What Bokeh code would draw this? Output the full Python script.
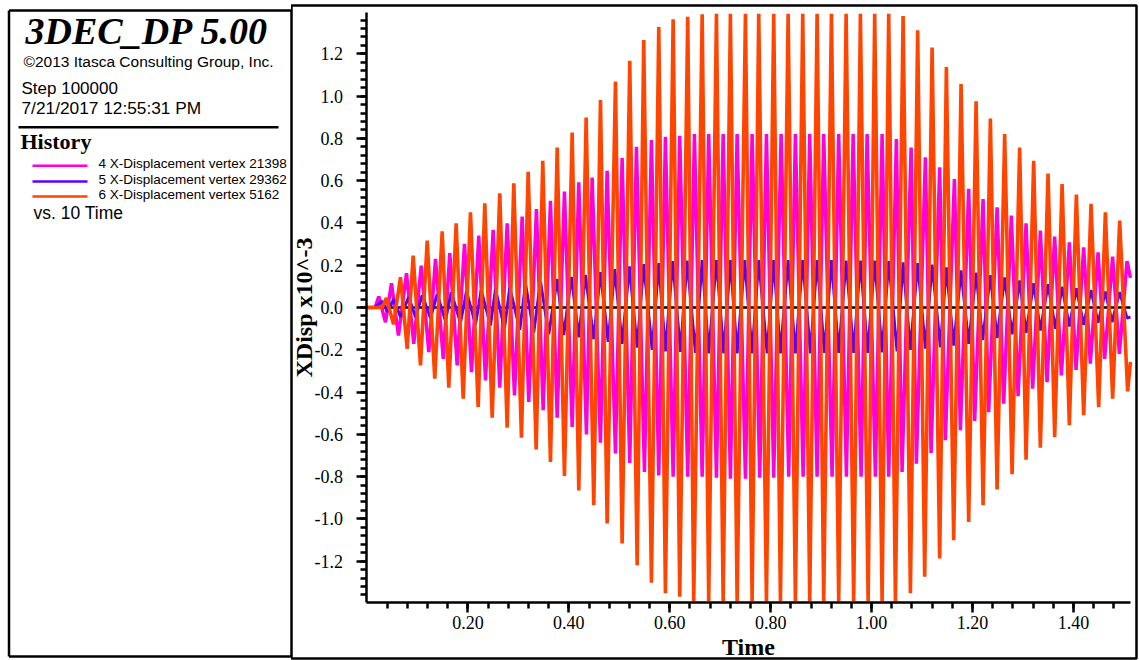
from bokeh.plotting import figure
from bokeh.layouts import row
from bokeh.models import Range1d, LinearAxis, FixedTicker, PrintfTickFormatter
from bokeh.core.properties import value
from bokeh.embed import file_html
from bokeh.resources import INLINE

# ---------------- data ----------------
# series 6: X-Displacement vertex 5162 (orange)
orange_start_t = [0.0, 0.030]
orange_start_v = [0.0, 0.0]
orange_peak_t = [0.0386, 0.0664, 0.0915, 0.1193, 0.1490, 0.1767, 0.2051, 0.2334, 0.2631, 0.2909,
                 0.3194, 0.3483, 0.3769, 0.4066, 0.4343, 0.4627, 0.4924, 0.5207, 0.5484, 0.5782,
                 0.6067, 0.6356, 0.6642, 0.6925, 0.7202, 0.7500, 0.7763, 0.8060, 0.8346, 0.8635,
                 0.8920, 0.9204, 0.9495, 0.9778, 1.0061, 1.0339, 1.0624, 1.0913, 1.1199, 1.1482,
                 1.1773, 1.2071, 1.2354, 1.2637, 1.2934, 1.3212, 1.3497, 1.3775, 1.4058, 1.4349,
                 1.4633, 1.4916]
orange_peak_v = [0.045, 0.143, 0.245, 0.316, 0.360, 0.398, 0.450, 0.493, 0.540, 0.587,
                 0.642, 0.694, 0.757, 0.828, 0.899, 0.981, 1.069, 1.167, 1.265, 1.327,
                 1.364, 1.375, 1.387, 1.39, 1.39, 1.39, 1.39, 1.39, 1.39, 1.39,
                 1.39, 1.39, 1.39, 1.39, 1.39, 1.39, 1.379, 1.312, 1.230, 1.138,
                 1.057, 0.975, 0.894, 0.820, 0.757, 0.694, 0.634, 0.584, 0.534, 0.490,
                 0.450, 0.411]
orange_trough_t = [0.0525, 0.0797, 0.1060, 0.1343, 0.1621, 0.1906, 0.2203, 0.2481, 0.2778, 0.3061,
                   0.3353, 0.3636, 0.3913, 0.4197, 0.4494, 0.4759, 0.5056, 0.5354, 0.5637, 0.5914,
                   0.6198, 0.6475, 0.6772, 0.7058, 0.7335, 0.7632, 0.7916, 0.8193, 0.8490, 0.8774,
                   0.9051, 0.9348, 0.9645, 0.9931, 1.0208, 1.0472, 1.0769, 1.1052, 1.1349, 1.1627,
                   1.1924, 1.2209, 1.2487, 1.2784, 1.3061, 1.3344, 1.3628, 1.3919, 1.4203, 1.4500,
                   1.4777, 1.5074]
orange_trough_v = [-0.080, -0.195, -0.274, -0.337, -0.379, -0.431, -0.471, -0.521, -0.568, -0.616,
                   -0.672, -0.731, -0.797, -0.865, -0.935, -1.022, -1.116, -1.219, -1.302, -1.352,
                   -1.368, -1.39, -1.39, -1.39, -1.39, -1.39, -1.39, -1.39, -1.39, -1.39,
                   -1.39, -1.39, -1.39, -1.39, -1.39, -1.39, -1.352, -1.274, -1.187, -1.101,
                   -1.014, -0.935, -0.861, -0.789, -0.720, -0.663, -0.613, -0.557, -0.510, -0.471,
                   -0.431, -0.397]
orange_end_t = [1.5130]
orange_end_v = [-0.258]

# series 4: X-Displacement vertex 21398 (magenta)
magenta_start_t = [0.0, 0.016]
magenta_start_v = [0.0, 0.0]
magenta_peak_t = [0.0234, 0.0485, 0.0783, 0.1074, 0.1357, 0.1641, 0.1932, 0.2215, 0.2500, 0.2778,
                  0.3075, 0.3358, 0.3636, 0.3913, 0.4197, 0.4462, 0.4759, 0.5056, 0.5340, 0.5637,
                  0.5914, 0.6198, 0.6489, 0.6772, 0.7058, 0.7335, 0.7632, 0.7916, 0.8207, 0.8490,
                  0.8774, 0.9051, 0.9348, 0.9634, 0.9911, 1.0208, 1.0491, 1.0783, 1.1066, 1.1349,
                  1.1641, 1.1924, 1.2209, 1.2487, 1.2770, 1.3061, 1.3345, 1.3628, 1.3919, 1.4203,
                  1.4488, 1.4777, 1.5062]
magenta_peak_v = [0.052, 0.115, 0.162, 0.198, 0.230, 0.257, 0.301, 0.340, 0.367, 0.398,
                  0.430, 0.466, 0.505, 0.549, 0.592, 0.615, 0.647, 0.707, 0.760, 0.792,
                  0.808, 0.812, 0.820, 0.820, 0.820, 0.820, 0.820, 0.820, 0.820, 0.820,
                  0.820, 0.820, 0.820, 0.820, 0.820, 0.820, 0.797, 0.757, 0.710, 0.663,
                  0.608, 0.561, 0.513, 0.474, 0.435, 0.398, 0.364, 0.335, 0.308, 0.285,
                  0.261, 0.241, 0.219]
magenta_trough_t = [0.0367, 0.0624, 0.0927, 0.1225, 0.1510, 0.1787, 0.2071, 0.2348, 0.2631, 0.2923,
                    0.3206, 0.3491, 0.3769, 0.4066, 0.4349, 0.4626, 0.4924, 0.5207, 0.5498, 0.5782,
                    0.6067, 0.6356, 0.6642, 0.6925, 0.7202, 0.7500, 0.7783, 0.8060, 0.8357, 0.8643,
                    0.8920, 0.9217, 0.9501, 0.9792, 1.0075, 1.0339, 1.0604, 1.0888, 1.1179, 1.1462,
                    1.1760, 1.2043, 1.2320, 1.2618, 1.2903, 1.3192, 1.3477, 1.3761, 1.4052, 1.4335,
                    1.4619, 1.4910]
magenta_trough_v = [-0.070, -0.132, -0.172, -0.211, -0.243, -0.274, -0.306, -0.345, -0.379, -0.416,
                    -0.447, -0.486, -0.521, -0.565, -0.600, -0.640, -0.690, -0.735, -0.778, -0.794,
                    -0.800, -0.800, -0.800, -0.805, -0.810, -0.810, -0.805, -0.805, -0.800, -0.800,
                    -0.800, -0.800, -0.800, -0.800, -0.800, -0.800, -0.778, -0.739, -0.688, -0.628,
                    -0.581, -0.537, -0.495, -0.455, -0.420, -0.384, -0.353, -0.321, -0.295, -0.266,
                    -0.243, -0.219]
magenta_end_t = [1.5130]
magenta_end_v = [0.140]

# series 5: X-Displacement vertex 29362 (blue)
blue_start_t = [0.0, 0.015]
blue_start_v = [0.0, 0.0]
blue_peak_t = [0.0301, 0.0531, 0.0828, 0.1094, 0.1391, 0.1668, 0.1971, 0.2263, 0.2546, 0.2829,
               0.3141, 0.3438, 0.3769, 0.4052, 0.4329, 0.4627, 0.4910, 0.5201, 0.5484, 0.5782,
               0.6059, 0.6344, 0.6642, 0.6925, 0.7202, 0.7486, 0.7763, 0.8060, 0.8346, 0.8635,
               0.8920, 0.9204, 0.9495, 0.9778, 1.0061, 1.0339, 1.0624, 1.0913, 1.1199, 1.1482,
               1.1773, 1.2071, 1.2354, 1.2637, 1.2934, 1.3212, 1.3497, 1.3775, 1.4058, 1.4349,
               1.4633, 1.4916]
blue_peak_v = [0.030, 0.040, 0.050, 0.058, 0.063, 0.072, 0.076, 0.082, 0.087, 0.094,
               0.112, 0.123, 0.135, 0.145, 0.154, 0.167, 0.181, 0.194, 0.205, 0.210,
               0.219, 0.222, 0.224, 0.224, 0.224, 0.224, 0.224, 0.224, 0.224, 0.224,
               0.224, 0.224, 0.222, 0.222, 0.222, 0.220, 0.214, 0.210, 0.203, 0.190,
               0.175, 0.165, 0.153, 0.142, 0.128, 0.115, 0.110, 0.098, 0.091, 0.083,
               0.075, 0.073]
blue_trough_t = [0.0406, 0.0664, 0.0961, 0.1258, 0.1555, 0.1853, 0.2150, 0.2447, 0.2724, 0.3028,
                 0.3305, 0.3602, 0.3899, 0.4197, 0.4494, 0.4779, 0.5056, 0.5354, 0.5651, 0.5914,
                 0.6212, 0.6509, 0.6772, 0.7070, 0.7335, 0.7632, 0.7930, 0.8193, 0.8490, 0.8787,
                 0.9065, 0.9348, 0.9645, 0.9923, 1.0208, 1.0505, 1.0769, 1.1066, 1.1363, 1.1627,
                 1.1924, 1.2201, 1.2487, 1.2784, 1.3061, 1.3345, 1.3642, 1.3919, 1.4203, 1.4488,
                 1.4765, 1.5062]
blue_trough_v = [-0.020, -0.045, -0.045, -0.050, -0.063, -0.072, -0.080, -0.085, -0.100, -0.105,
                 -0.118, -0.127, -0.130, -0.141, -0.150, -0.163, -0.172, -0.190, -0.200, -0.208,
                 -0.210, -0.215, -0.217, -0.217, -0.217, -0.217, -0.217, -0.217, -0.217, -0.217,
                 -0.215, -0.215, -0.215, -0.215, -0.212, -0.208, -0.200, -0.195, -0.188, -0.180,
                 -0.172, -0.154, -0.145, -0.127, -0.120, -0.109, -0.100, -0.090, -0.082, -0.072,
                 -0.069, -0.050]
blue_end_t = [1.5130]
blue_end_v = [-0.045]

series_names = ["4 X-Displacement vertex 21398",
                "5 X-Displacement vertex 29362",
                "6 X-Displacement vertex 5162"]
series_colors = ["#ff00dc", "#5a00ff", "#ff4500"]

y_major_ticks = [-1.2, -1.0, -0.8, -0.6, -0.4, -0.2, 0.0, 0.2, 0.4, 0.6, 0.8, 1.0, 1.2]
y_minor_ticks = [round(-1.36 + 0.04 * i, 2) for i in range(69)]
x_major_ticks = [0.2, 0.4, 0.6, 0.8, 1.0, 1.2, 1.4]
x_minor_ticks = [round(0.04 * i, 2) for i in range(1, 38)]
x_axis_span = (0.0, 1.513)
y_axis_span = (-1.3955, 1.3955)


def build(start_t, start_v, peak_t, peak_v, trough_t, trough_v, end_t, end_v):
    t, v = list(start_t), list(start_v)
    for i in range(len(peak_t)):
        t.append(peak_t[i]); v.append(peak_v[i])
        if i < len(trough_t):
            t.append(trough_t[i]); v.append(trough_v[i])
    return t + list(end_t), v + list(end_v)


mag_t, mag_v = build(magenta_start_t, magenta_start_v, magenta_peak_t, magenta_peak_v,
                     magenta_trough_t, magenta_trough_v, magenta_end_t, magenta_end_v)
blu_t, blu_v = build(blue_start_t, blue_start_v, blue_peak_t, blue_peak_v,
                     blue_trough_t, blue_trough_v, blue_end_t, blue_end_v)
ora_t, ora_v = build(orange_start_t, orange_start_v, orange_peak_t, orange_peak_v,
                     orange_trough_t, orange_trough_v, orange_end_t, orange_end_v)

SERIF = "Liberation Serif"
SANS = "Liberation Sans"

# ---------------- left info panel ----------------
L = figure(width=291, height=660, x_range=Range1d(0, 291), y_range=Range1d(660, 0),
           output_backend="svg", toolbar_location=None,
           x_axis_location=None, y_axis_location=None, min_border=0,
           outline_line_color=None, background_fill_color="white", border_fill_color="white")
L.grid.visible = False

L.segment(x0=[8.5, 8.5, 8.5, 290.5, 18], y0=[5, 5, 658, 5, 123],
          x1=[8.5, 291, 291, 290.5, 278], y1=[658, 5, 658, 658, 123],
          line_color="black", line_width=[2.5, 2.5, 2.5, 1.5, 2.5])


def ltext(x, baseline, s, font, size, style="normal"):
    # baseline correction for how the text glyph anchors its box
    y = baseline - 0.55 * size
    L.text(x=[x], y=[y], text=[s], text_font=value(font), text_font_size=f"{size}px",
           text_font_style=style, text_baseline="alphabetic", text_align="left",
           text_color="black")


ltext(25, 47, "3DEC_DP 5.00", SERIF, 38, "bold italic")
ltext(23, 65, "©2013 Itasca Consulting Group, Inc.", SANS, 15.5)
ltext(21, 93, "Step 100000", SANS, 17)
ltext(21, 113, "7/21/2017 12:55:31 PM", SANS, 17.3)
ltext(20, 150, "History", SERIF, 22, "bold")
leg_y = [162, 178, 193]
for i in range(3):
    L.segment(x0=[32], y0=[leg_y[i]], x1=[87], y1=[leg_y[i]],
              line_color=series_colors[i], line_width=2.5)
    ltext(98, leg_y[i] + 5, series_names[i], SANS, 13.5)
ltext(33, 219, "vs. 10 Time", SANS, 17.5)

# ---------------- right plot panel ----------------
R = figure(width=848, height=660,
           x_range=Range1d(-0.14962, 1.52497), y_range=Range1d(-1.6604, 1.4286),
           output_backend="svg", toolbar_location=None,
           x_axis_location=None, y_axis_location=None,
           min_border_left=0, min_border_right=3, min_border_top=5, min_border_bottom=2,
           outline_line_color="black", outline_line_width=2.5,
           background_fill_color="white", border_fill_color="white")
R.grid.visible = False

yaxis = LinearAxis(fixed_location=0.0, bounds=y_axis_span,
                   ticker=FixedTicker(ticks=y_major_ticks, minor_ticks=y_minor_ticks),
                   formatter=PrintfTickFormatter(format="%.1f"),
                   axis_label="XDisp x10^-3")
xaxis = LinearAxis(fixed_location=y_axis_span[0], bounds=x_axis_span,
                   ticker=FixedTicker(ticks=x_major_ticks, minor_ticks=x_minor_ticks),
                   formatter=PrintfTickFormatter(format="%.2f"),
                   axis_label="Time")
for ax in (yaxis, xaxis):
    ax.axis_line_color = "black"
    ax.axis_line_width = 2.5
    ax.major_tick_line_color = "black"
    ax.major_tick_line_width = 2.5
    ax.minor_tick_line_color = "black"
    ax.minor_tick_line_width = 2.5
    ax.major_tick_in = 0
    ax.major_tick_out = 10
    ax.minor_tick_in = 0
    ax.minor_tick_out = 6
    ax.major_label_text_font = SERIF
    ax.major_label_text_font_size = "18px"
    ax.major_label_text_color = "black"
    ax.axis_label_text_font = SERIF
    ax.axis_label_text_font_style = "bold"
    ax.axis_label_text_font_size = "24px"
    ax.axis_label_text_color = "black"
yaxis.major_label_standoff = 14
yaxis.axis_label_standoff = -6
xaxis.major_label_standoff = 3
xaxis.axis_label_standoff = 2
R.add_layout(yaxis, "left")
R.add_layout(xaxis, "below")

R.line(x=[x_axis_span[0], ora_t[-1]], y=[0, 0], line_color="black", line_width=2.5)
R.line(x=mag_t, y=mag_v, line_color=series_colors[0], line_width=3.5, line_join="bevel")
R.line(x=blu_t, y=blu_v, line_color=series_colors[1], line_width=3, line_join="bevel")
R.line(x=ora_t, y=ora_v, line_color=series_colors[2], line_width=3.6, line_join="bevel")

layout = row(L, R, spacing=0)
open("out.html", "w").write(file_html(layout, INLINE))
